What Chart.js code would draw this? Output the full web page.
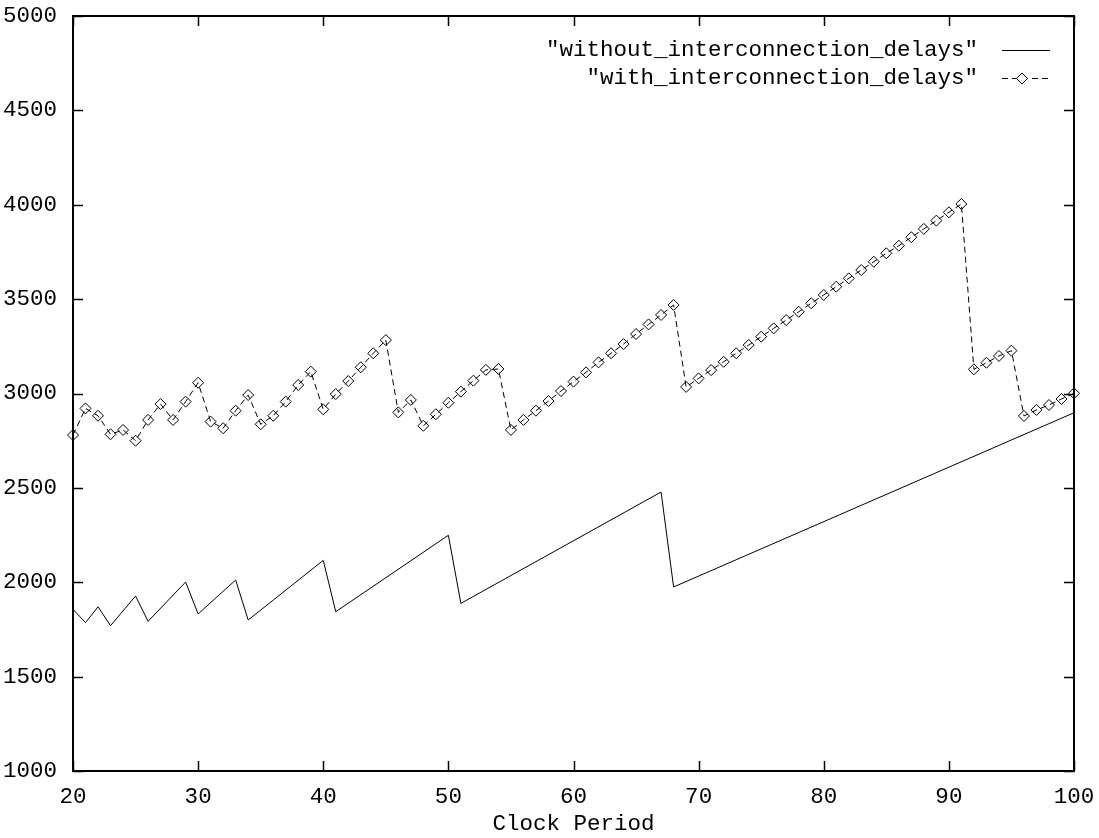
<!DOCTYPE html>
<html>
<head>
<meta charset="utf-8">
<script src="https://cdn.jsdelivr.net/npm/chart.js@4/dist/chart.umd.min.js"></script>
<style>
  html, body { margin: 0; padding: 0; background: #ffffff; }
  #c { display: block; }
</style>
</head>
<body>
<canvas id="c" width="1099" height="838"></canvas>
<script>
// ---- data ----
const withoutClock = [20, 21, 22, 23, 25, 26, 29, 30, 33, 34, 40, 41, 50, 51, 67, 68, 100];
const withoutDelays = [1857, 1786, 1870, 1770, 1927, 1793, 2001, 1832, 2012, 1800, 2116, 1844, 2249, 1888, 2478, 1975, 2898];

const withClock = [20, 21, 22, 23, 24, 25, 26, 27, 28, 29,
                   30, 31, 32, 33, 34, 35, 36, 37, 38, 39,
                   40, 41, 42, 43, 44, 45, 46, 47, 48, 49,
                   50, 51, 52, 53, 54, 55, 56, 57, 58, 59,
                   60, 61, 62, 63, 64, 65, 66, 67, 68, 69,
                   70, 71, 72, 73, 74, 75, 76, 77, 78, 79,
                   80, 81, 82, 83, 84, 85, 86, 87, 88, 89,
                   90, 91, 92, 93, 94, 95, 96, 97, 98, 99, 100];
const withDelays = [2780, 2921, 2882, 2784, 2807, 2750, 2860, 2944, 2860, 2957,
                    3057, 2851, 2816, 2909, 2992, 2837, 2882, 2957, 3045, 3116,
                    2916, 2997, 3066, 3139, 3213, 3283, 2900, 2966, 2829, 2890,
                    2951, 3010, 3068, 3125, 3130, 2807, 2860, 2909, 2960, 3013,
                    3063, 3112, 3165, 3213, 3262, 3315, 3366, 3416, 3469, 3035,
                    3080, 3124, 3168, 3213, 3257, 3301, 3345, 3389, 3433, 3478,
                    3522, 3566, 3610, 3654, 3698, 3743, 3783, 3828, 3872, 3916,
                    3960, 4004, 3128, 3163, 3199, 3227, 2881, 2913, 2939, 2971, 3001];

const xTicks = [20, 30, 40, 50, 60, 70, 80, 90, 100];
const yTicks = [1000, 1500, 2000, 2500, 3000, 3500, 4000, 4500, 5000];
const seriesLabels = ['"without_interconnection_delays"', '"with_interconnection_delays"'];
const xTitle = 'Clock Period';

// ---- helpers ----
const FONT = '"Liberation Mono", "DejaVu Sans Mono", monospace';
const FSIZE = 22.5;
const toPts = (xs, ys) => xs.map((x, i) => ({ x: x, y: ys[i] }));

const framePlugin = {
  id: 'gnuplotFrame',
  beforeDraw(chart) {
    const ctx = chart.ctx;
    ctx.save();
    ctx.fillStyle = '#ffffff';
    ctx.fillRect(0, 0, chart.width, chart.height);
    ctx.restore();
  },
  afterDraw(chart) {
    const ctx = chart.ctx;
    const a = chart.chartArea;
    const xs = chart.scales.x, ys = chart.scales.y;
    ctx.save();
    // ticks (inward, mirrored)
    ctx.strokeStyle = '#000';
    ctx.lineWidth = 1.5;
    ctx.beginPath();
    const TL = 10;
    xTicks.forEach(v => {
      const px = Math.round(xs.getPixelForValue(v)) + 0.5;
      ctx.moveTo(px, a.bottom); ctx.lineTo(px, a.bottom - TL);
      ctx.moveTo(px, a.top); ctx.lineTo(px, a.top + TL);
    });
    yTicks.forEach(v => {
      const py = Math.round(ys.getPixelForValue(v)) + 0.5;
      ctx.moveTo(a.left, py); ctx.lineTo(a.left + TL, py);
      ctx.moveTo(a.right, py); ctx.lineTo(a.right - TL, py);
    });
    ctx.stroke();
    // frame
    ctx.lineWidth = 2;
    ctx.strokeRect(a.left, a.top, a.right - a.left, a.bottom - a.top);

    // legend
    ctx.font = FSIZE + 'px ' + FONT;
    ctx.fillStyle = '#000';
    ctx.textAlign = 'right';
    ctx.textBaseline = 'middle';
    const textRight = 978;
    const sx0 = 1002, sx1 = 1050;
    const row1 = 50, row2 = 78;
    ctx.fillText(seriesLabels[0], textRight, row1);
    ctx.fillText(seriesLabels[1], textRight, row2);
    ctx.lineWidth = 1;
    ctx.beginPath();
    ctx.moveTo(sx0, row1 + 0.5); ctx.lineTo(sx1, row1 + 0.5);
    ctx.stroke();
    ctx.setLineDash([6, 4]);
    ctx.beginPath();
    ctx.moveTo(sx0, row2 + 0.5); ctx.lineTo(sx1, row2 + 0.5);
    ctx.stroke();
    ctx.setLineDash([]);
    const cx = (sx0 + sx1) / 2 - 4, r = 5.5;
    ctx.beginPath();
    ctx.moveTo(cx - r, row2 + 0.5); ctx.lineTo(cx, row2 + 0.5 - r);
    ctx.lineTo(cx + r, row2 + 0.5); ctx.lineTo(cx, row2 + 0.5 + r);
    ctx.closePath();
    ctx.fillStyle = '#fff';
    ctx.fill();
    ctx.stroke();
    ctx.restore();
  }
};

new Chart(document.getElementById('c'), {
  type: 'scatter',
  data: {
    datasets: [
      {
        label: seriesLabels[0],
        data: toPts(withoutClock, withoutDelays),
        showLine: true,
        borderColor: '#000',
        borderWidth: 1,
        pointRadius: 0,
        tension: 0,
        clip: false
      },
      {
        label: seriesLabels[1],
        data: toPts(withClock, withDelays),
        showLine: true,
        borderColor: '#000',
        borderWidth: 1,
        borderDash: [6, 4],
        pointStyle: 'rectRot',
        pointRadius: 5.5,
        pointBorderWidth: 1,
        pointBorderColor: '#000',
        pointBackgroundColor: 'rgba(0,0,0,0)',
        tension: 0,
        clip: false
      }
    ]
  },
  options: {
    responsive: false,
    animation: false,
    devicePixelRatio: 1,
    layout: { padding: { top: 16, right: 25, left: 0, bottom: 0 } },
    plugins: {
      legend: { display: false },
      tooltip: { enabled: false }
    },
    scales: {
      x: {
        type: 'linear',
        min: 20, max: 100,
        afterFit(s) { s.height = 67; s.paddingLeft = 0; s.paddingRight = 0; },
        afterBuildTicks(s) { s.ticks = xTicks.map(v => ({ value: v })); },
        grid: { display: false, drawTicks: false },
        border: { display: false },
        ticks: {
          color: '#000',
          font: { family: FONT, size: FSIZE },
          padding: 13,
          maxRotation: 0,
          autoSkip: false,
          callback: v => String(v)
        },
        title: {
          display: true,
          text: xTitle,
          color: '#000',
          font: { family: FONT, size: FSIZE },
          padding: { top: 0, bottom: 0 }
        }
      },
      y: {
        type: 'linear',
        min: 1000, max: 5000,
        afterFit(s) { s.width = 73; s.paddingTop = 0; s.paddingBottom = 0; },
        afterBuildTicks(s) { s.ticks = yTicks.map(v => ({ value: v })); },
        grid: { display: false, drawTicks: false },
        border: { display: false },
        ticks: {
          color: '#000',
          font: { family: FONT, size: FSIZE },
          padding: 16,
          autoSkip: false,
          callback: v => String(v)
        }
      }
    }
  },
  plugins: [framePlugin]
});
</script>
</body>
</html>
